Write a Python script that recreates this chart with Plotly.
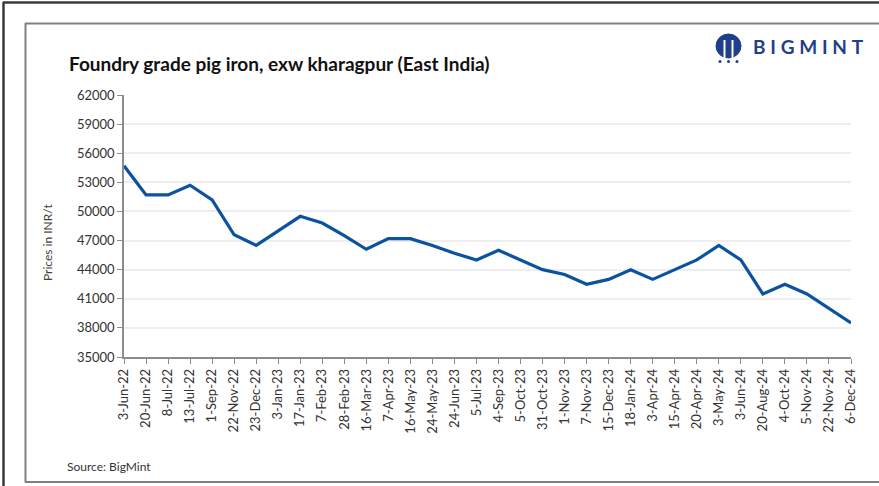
import plotly.graph_objects as go

dates = ["3-Jun-22", "20-Jun-22", "8-Jul-22", "13-Jul-22", "1-Sep-22", "22-Nov-22",
         "23-Dec-22", "3-Jan-23", "17-Jan-23", "7-Feb-23", "28-Feb-23", "16-Mar-23",
         "7-Apr-23", "16-May-23", "24-May-23", "24-Jun-23", "5-Jul-23", "4-Sep-23",
         "5-Oct-23", "31-Oct-23", "1-Nov-23", "7-Nov-23", "15-Dec-23", "18-Jan-24",
         "3-Apr-24", "15-Apr-24", "20-Apr-24", "3-May-24", "3-Jun-24", "20-Aug-24",
         "4-Oct-24", "5-Nov-24", "22-Nov-24", "6-Dec-24"]
prices = [54700, 51700, 51700, 52700, 51200, 47600,
          46500, 48000, 49500, 48800, 47500, 46100,
          47200, 47200, 46500, 45700, 45000, 46000,
          45000, 44000, 43500, 42500, 43000, 44000,
          43000, 44000, 45000, 46500, 45000, 41500,
          42500, 41500, 40000, 38500]
y_ticks = [35000, 38000, 41000, 44000, 47000, 50000, 53000, 56000, 59000, 62000]

W, H = 879, 486
ML, MR, MT, MB = 124, 28, 95, 129
PW, PH = W - ML - MR, H - MT - MB

def px(x):
    return (x - ML) / PW

def py(y):
    return (H - MB - y) / PH

FONT = "Lato"
BLUE = "#0b52a0"
LOGO = "#1f3f8c"

fig = go.Figure()
fig.add_trace(go.Scatter(x=dates, y=prices, mode="lines",
                         line=dict(color=BLUE, width=3.2), hoverinfo="x+y"))

shapes = []
# outer frame
shapes.append(dict(type="line", xref="paper", yref="paper", x0=px(3), x1=px(880), y0=py(2.5), y1=py(2.5),
                   line=dict(color="#3a3a3a", width=2.5)))
shapes.append(dict(type="line", xref="paper", yref="paper", x0=px(3.5), x1=px(3.5), y0=py(2), y1=py(487),
                   line=dict(color="#3a3a3a", width=2.5)))
# inner frame
shapes.append(dict(type="line", xref="paper", yref="paper", x0=px(25), x1=px(880), y0=py(23.5), y1=py(23.5),
                   line=dict(color="#808080", width=2)))
shapes.append(dict(type="line", xref="paper", yref="paper", x0=px(25.5), x1=px(25.5), y0=py(23), y1=py(482.5),
                   line=dict(color="#808080", width=2)))
shapes.append(dict(type="line", xref="paper", yref="paper", x0=px(25), x1=px(880), y0=py(482), y1=py(482),
                   line=dict(color="#808080", width=2)))
# logo icon
shapes.append(dict(type="circle", xref="paper", yref="paper", x0=px(716), x1=px(741), y0=py(34), y1=py(58),
                   fillcolor=LOGO, line=dict(color=LOGO, width=1)))
for xx in (724.5, 732.5):
    shapes.append(dict(type="line", xref="paper", yref="paper", x0=px(xx), x1=px(xx), y0=py(40), y1=py(59),
                       line=dict(color="white", width=2)))
for xx in (720, 728.5, 737):
    shapes.append(dict(type="circle", xref="paper", yref="paper", x0=px(xx - 1.5), x1=px(xx + 1.5),
                       y0=py(60), y1=py(63), fillcolor=LOGO, line=dict(width=0)))

annotations = [
    dict(text="<b>Foundry grade pig iron, exw kharagpur (East India)</b>", x=px(67), y=py(63),
         xref="paper", yref="paper", xanchor="left", yanchor="middle", showarrow=False,
         font=dict(family=FONT, size=19, color="#111111")),
    dict(text="<b>B\u2005I\u2005G\u2005M\u2005I\u2005N\u2005T</b>", x=px(751), y=py(47),
         xref="paper", yref="paper", xanchor="left", yanchor="middle", showarrow=False,
         font=dict(family=FONT, size=19, color=LOGO)),
    dict(text="Prices in INR/t", x=px(47), y=py(242), xref="paper", yref="paper",
         xanchor="center", yanchor="middle", textangle=-90, showarrow=False,
         font=dict(family=FONT, size=12, color="#404040")),
    dict(text="Source: BigMint", x=px(65), y=py(466), xref="paper", yref="paper",
         xanchor="left", yanchor="middle", showarrow=False,
         font=dict(family=FONT, size=12, color="#333333")),
]

fig.update_layout(
    width=W, height=H,
    margin=dict(l=ML, r=MR, t=MT, b=MB, autoexpand=False),
    paper_bgcolor="white", plot_bgcolor="white",
    showlegend=False,
    shapes=shapes, annotations=annotations,
    xaxis=dict(type="category", categoryorder="array", categoryarray=dates,
               range=[0, len(dates) - 1], tickangle=-90,
               showline=True, linecolor="#8c8c8c", linewidth=1.5,
               ticks="outside", ticklen=5, tickcolor="#8c8c8c", tickwidth=1,
               showgrid=False, automargin=False,
               tickfont=dict(family=FONT, size=13, color="#333333")),
    yaxis=dict(range=[35000, 62000], tickvals=y_ticks, ticktext=[str(v) for v in y_ticks],
               showline=True, linecolor="#8c8c8c", linewidth=1.5,
               ticks="outside", ticklen=5, tickcolor="#8c8c8c", tickwidth=1,
               showgrid=True, gridcolor="#eeeeee", gridwidth=1.5, zeroline=False,
               automargin=False,
               tickfont=dict(family=FONT, size=13, color="#333333")),
)

fig.write_html("out.html", config={"displayModeBar": False},
               post_script="document.body.style.margin='0';document.body.style.overflow='hidden';")
